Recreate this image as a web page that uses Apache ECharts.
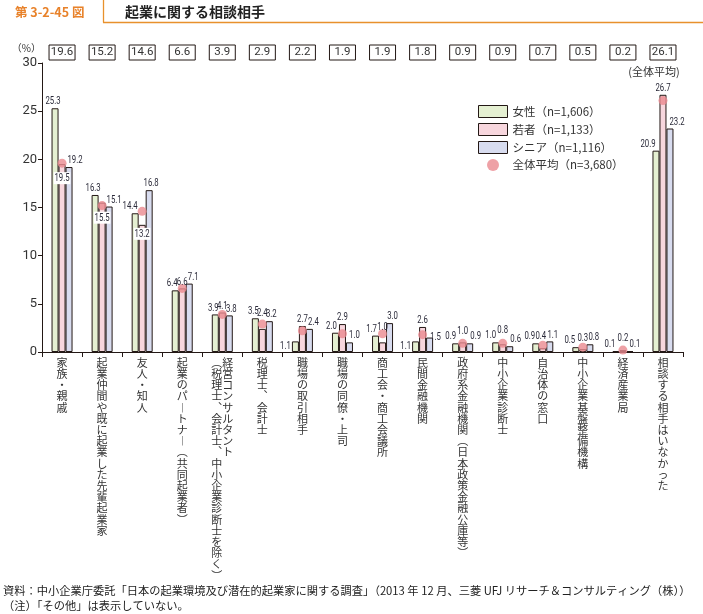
<!DOCTYPE html>
<html><head><meta charset="utf-8">
<script src="https://cdn.jsdelivr.net/npm/echarts@6/dist/echarts.min.js"></script>
<style>html,body{margin:0;padding:0;background:#fff}#c{width:703px;height:614px}</style>
</head><body><div id="c"></div>
<script>
// ---- data ----
const categories = [
  '家族・親戚',
  '起業仲間や既に起業した先輩起業家',
  '友人・知人',
  '起業のパートナー（共同起業者）',
  '経営コンサルタント\n（税理士、会計士、中小企業診断士を除く）',
  '税理士、会計士',
  '職場の取引相手',
  '職場の同僚・上司',
  '商工会・商工会議所',
  '民間金融機関',
  '政府系金融機関（日本政策金融公庫等）',
  '中小企業診断士',
  '自治体の窓口',
  '中小企業基盤整備機構',
  '経済産業局',
  '相談する相手はいなかった'
];
const seriesNames = ['女性（n=1,606）', '若者（n=1,133）', 'シニア（n=1,116）'];
const avgName = '全体平均（n=3,680）';
const women  = [25.3, 16.3, 14.4, 6.4, 3.9, 3.5, 1.1, 2.0, 1.7, 1.1, 0.9, 1.0, 0.9, 0.5, 0.1, 20.9];
const youth  = [19.5, 15.5, 13.2, 6.6, 4.1, 2.4, 2.7, 2.9, 1.0, 2.6, 1.0, 0.8, 0.4, 0.3, 0.2, 26.7];
const senior = [19.2, 15.1, 16.8, 7.1, 3.8, 3.2, 2.4, 1.0, 3.0, 1.5, 0.9, 0.6, 1.1, 0.8, 0.1, 23.2];
const overall = [19.6, 15.2, 14.6, 6.6, 3.9, 2.9, 2.2, 1.9, 1.9, 1.8, 0.9, 0.9, 0.7, 0.5, 0.2, 26.1];
const yMin = 0, yMax = 30, yStep = 5;

// ---- styling ----
const NUM = "Roboto,'Liberation Sans',sans-serif";
const JP = "'Noto Sans CJK JP','Noto Sans',sans-serif";
const INK = '#231815';
const TXT = '#333333';
const LBL = '#2b2b3a';
const colors = ['#e5f0d2', '#f7d6dd', '#d8dcef'];
const dotColor = '#ea8990';
const BAR_W = 7;
const SQUEEZE = 0.74;   // horizontal condensing of value labels

const vmap = {'（':'︵','）':'︶','ー':'︱','、':'︑'};
function vert(s){ return Array.from(s).map(c => vmap[c] || c); }
function verticalize(v){
  const cols = v.split('\n').map(vert);
  if (cols.length === 1) return cols[0].join('\n');
  const n = Math.max(cols[0].length, cols[1].length);
  const lines = [];
  for (let i = 0; i < n; i++) lines.push((cols[1][i] || '　') + (cols[0][i] || '　'));
  return lines.join('\n');
}

// label placement tweaks per series / category (style only)
const defaultDx = [-2, 0, 2];
const tweaks = [
  {2:{dx:-5},3:{dx:-3},6:{pos:'left'},7:{dx:-4},8:{dx:-4},9:{pos:'left'},10:{dx:-5},11:{dx:-5},12:{dx:-6},13:{dx:-6},14:{dx:-6},15:{dx:-8}},
  {0:{pos:'inside',d:8},1:{pos:'inside',d:9},2:{pos:'inside',d:3},5:{dy:-9},8:{dy:-8},10:{dy:-4},11:{dy:-7},12:{dx:-2,dy:-5},13:{dy:-4},14:{dy:-5}},
  {0:{dx:6},1:{dx:5},3:{dx:4},6:{dx:4},7:{dx:5},8:{dx:3},9:{dx:6,dy:6},10:{dx:6},11:{dx:6},12:{dx:3},13:{dx:4},14:{dx:5},15:{dx:7}}
];

const groups = [women, youth, senior];
const labelData = [];
groups.forEach((vals, k) => vals.forEach((v, i) => labelData.push([i, v, k])));

function barSeries(k, values){
  return {
    name: seriesNames[k], type:'bar', barWidth:BAR_W, barGap:'0%',
    itemStyle:{color:colors[k], borderColor:INK, borderWidth:1},
    data: values
  };
}

function renderLabel(params, api){
  const i = api.value(0), v = api.value(1), k = api.value(2);
  const t = tweaks[k][i] || {};
  const top = api.coord([i, v]);
  const base = api.coord([i, 0]);
  const cx = top[0] + (k - 1) * BAR_W;
  const style = {text: v.toFixed(1), fontSize:10.5, fontFamily:NUM, fill:LBL};
  let x, y;
  if (t.pos === 'left') {
    x = cx - BAR_W / 2 - 1; y = (top[1] + base[1]) / 2;
    style.align = 'right'; style.verticalAlign = 'middle';
  } else if (t.pos === 'inside') {
    x = cx; y = top[1] + t.d;
    style.align = 'center'; style.verticalAlign = 'top';
    style.backgroundColor = '#fff'; style.padding = [1, 1, 0, 1];
  } else {
    x = cx + (t.dx !== undefined ? t.dx : defaultDx[k]); y = top[1] - 1 + (t.dy || 0);
    style.align = 'center'; style.verticalAlign = 'bottom';
  }
  return {type:'text', x:x, y:y, scaleX:SQUEEZE, style:style, z2:10};
}

const chart = echarts.init(document.getElementById('c'), null, {renderer:'canvas'});
chart.setOption({
  animation:false,
  backgroundColor:'#fff',
  grid:{left:42, right:20, top:63, bottom:262},
  legend:{
    orient:'vertical', left:473, top:100, itemWidth:29, itemHeight:12, itemGap:5,
    itemStyle:{borderWidth:1, borderColor:INK},
    textStyle:{fontSize:11.5, color:TXT, fontFamily:JP},
    data:[{name:seriesNames[0], icon:'rect'}, {name:seriesNames[1], icon:'rect'}, {name:seriesNames[2], icon:'rect'},
          {name:avgName, icon:'circle', itemStyle:{borderWidth:0}}]
  },
  xAxis:[
    {type:'category', data:categories, position:'bottom',
     axisLine:{lineStyle:{color:INK, width:1}},
     axisTick:{show:true, length:5, interval:0, lineStyle:{color:INK}},
     axisLabel:{interval:0, margin:5, formatter:verticalize, fontSize:11, lineHeight:11.2, color:TXT, fontFamily:JP, verticalAlign:'top'}},
    {type:'category', data:categories, position:'top',
     axisLine:{show:false}, axisTick:{show:false},
     axisLabel:{interval:0, margin:3, formatter:(v,i) => overall[i].toFixed(1),
       fontSize:11.5, fontFamily:NUM, color:TXT, borderColor:INK, borderWidth:1,
       width:24, height:15, lineHeight:15, align:'center', padding:[0,1]}}
  ],
  yAxis:{type:'value', min:yMin, max:yMax, interval:yStep,
    axisLine:{show:true, lineStyle:{color:INK}},
    axisTick:{show:true, length:4, lineStyle:{color:INK}},
    splitLine:{show:false},
    axisLabel:{fontSize:13, color:TXT, margin:5, fontFamily:NUM}},
  series:[
    barSeries(0, women), barSeries(1, youth), barSeries(2, senior),
    {name:avgName, type:'scatter', data:overall, symbolSize:9, itemStyle:{color:dotColor}, z:5},
    {type:'custom', name:'labels', data:labelData, renderItem:renderLabel, z:6, silent:true,
     encode:{x:0, y:1}, clip:false}
  ],
  graphic:[
    {type:'line', shape:{x1:103.5,y1:0,x2:103.5,y2:22.5}, style:{stroke:'#e8912c', lineWidth:1.3}},
    {type:'line', shape:{x1:103,y1:22.5,x2:703,y2:22.5}, style:{stroke:'#e8912c', lineWidth:1.3}},
    {type:'text', x:15, y:12, style:{text:'第 3-2-45 図', fill:'#e8822a', fontSize:12.5, fontWeight:'bold', fontFamily:JP, verticalAlign:'middle'}},
    {type:'text', x:125, y:12, style:{text:'起業に関する相談相手', fill:'#222', fontSize:14, fontWeight:'bold', fontFamily:JP, verticalAlign:'middle'}},
    {type:'text', x:41, y:48, style:{text:'（%）', fill:TXT, fontSize:10, fontFamily:JP, align:'right', verticalAlign:'middle'}},
    {type:'text', x:654, y:72, style:{text:'(全体平均)', fill:TXT, fontSize:11, fontFamily:JP, align:'center', verticalAlign:'middle'}},
    {type:'text', x:3, y:591, style:{text:'資料：中小企業庁委託「日本の起業環境及び潜在的起業家に関する調査」（2013 年 12 月、三菱 UFJ リサーチ＆コンサルティング（株））', fill:'#222', fontSize:11.25, fontFamily:JP, verticalAlign:'middle'}},
    {type:'text', x:3, y:606, style:{text:'（注）「その他」は表示していない。', fill:'#222', fontSize:11.25, fontFamily:JP, verticalAlign:'middle'}}
  ]
});
</script></body></html>
